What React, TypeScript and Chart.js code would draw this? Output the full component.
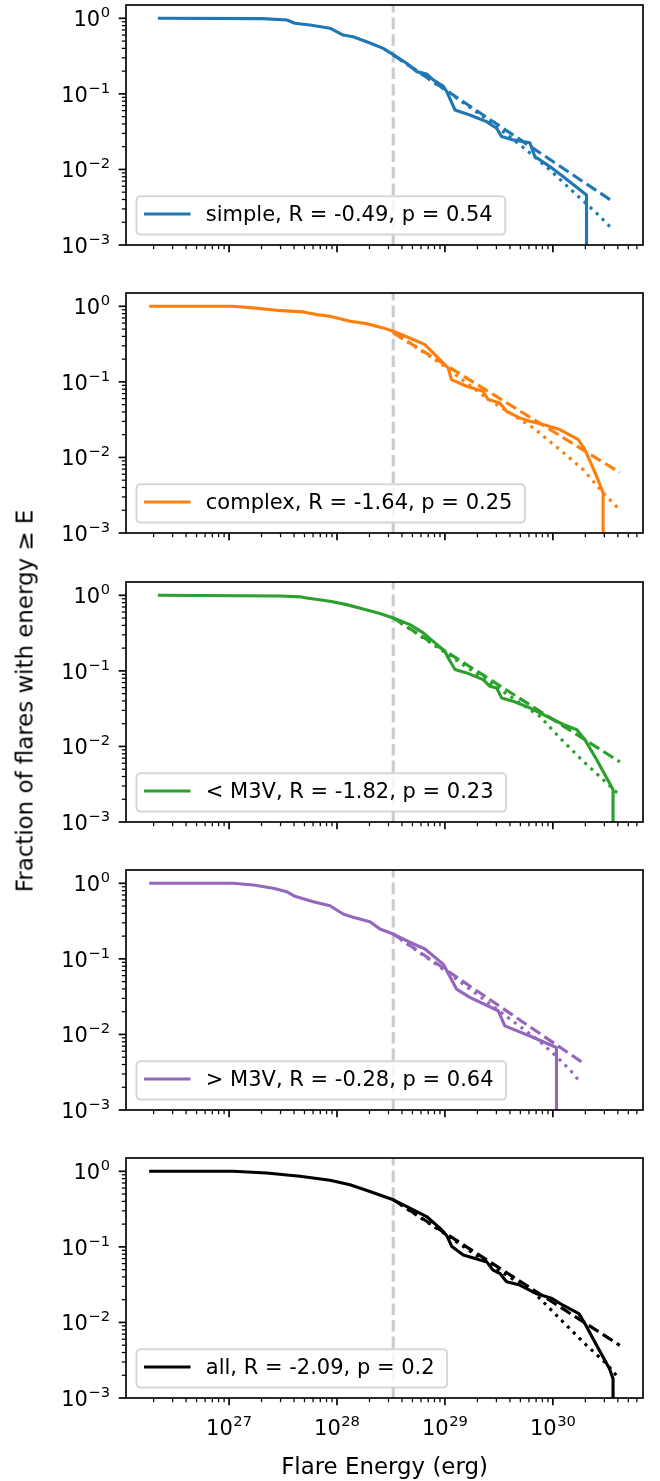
import React, { useEffect, useRef } from 'react';
import { Chart, registerables } from 'chart.js';

Chart.register(...registerables);

// ---------- axes ----------
const X_MIN = 1.11e26;
const X_MAX = 6.84e30;
const Y_MIN = 1e-3;
const Y_MAX = 1.5;
const E_MIN = 3.32e28; // grey dashed threshold line
const X_MAJOR = [1e27, 1e28, 1e29, 1e30];
const X_MAJOR_EXP = ['27', '28', '29', '30'];
const Y_MAJOR = [1, 0.1, 0.01, 0.001];
const Y_MAJOR_EXP = ['0', '\u22121', '\u22122', '\u22123'];
const X_TITLE = 'Flare Energy (erg)';
const Y_TITLE = 'Fraction of flares with energy \u2265 E';

// ---------- simple ----------
const SIMPLE_E = [2.19e26, 2.06e27, 3.44e27, 4.07e27, 5.62e27, 8.61e27, 1.14e28, 1.41e28, 2.02e28, 2.68e28, 3.32e28, 4.42e28, 5.47e28, 6.76e28, 7.78e28, 9.64e28, 1.04e29, 1.24e29, 1.70e29, 2.43e29, 3.01e29, 3.35e29, 4.29e29, 6.12e29, 6.81e29, 9.38e29, 1.25e30, 2.05e30, 2.05e30];
const SIMPLE_F = [1.0, 0.99, 0.95, 0.86, 0.815, 0.74, 0.60, 0.57, 0.47, 0.40, 0.33, 0.254, 0.197, 0.183, 0.153, 0.127, 0.107, 0.0612, 0.0526, 0.0429, 0.0351, 0.0272, 0.0246, 0.0226, 0.0148, 0.0109, 0.0080, 0.0046, 0.0001];
const SIMPLE_PL_E = [3.32e28, 3.61e30];
const SIMPLE_PL_F = [0.327, 0.00375];
const SIMPLE_CUT_E = [3.32e28, 5.08e28, 1.19e29, 2.51e29, 5.70e29, 9.38e29, 1.54e30, 2.54e30, 3.56e30];
const SIMPLE_CUT_F = [0.327, 0.218, 0.095, 0.045, 0.0181, 0.00984, 0.00508, 0.00264, 0.00162];

// ---------- complex ----------
const COMPLEX_E = [1.82e26, 1.09e27, 1.67e27, 2.76e27, 4.88e27, 6.49e27, 8.61e27, 1.32e28, 1.88e28, 2.68e28, 3.32e28, 5.08e28, 6.53e28, 8.97e28, 1.07e29, 1.15e29, 1.59e29, 2.26e29, 2.52e29, 3.23e29, 3.72e29, 4.94e29, 6.12e29, 8.13e29, 1.16e30, 1.71e30, 1.98e30, 2.54e30, 2.92e30, 2.92e30];
const COMPLEX_F = [1.0, 1.0, 0.953, 0.885, 0.843, 0.776, 0.737, 0.634, 0.590, 0.518, 0.467, 0.363, 0.311, 0.197, 0.153, 0.107, 0.0875, 0.0752, 0.0583, 0.0526, 0.0408, 0.0334, 0.0301, 0.0272, 0.0234, 0.0173, 0.0127, 0.00564, 0.0034, 0.0001];
const COMPLEX_PL_E = [3.32e28, 4.17e30];
const COMPLEX_PL_F = [0.447, 0.0063];
const COMPLEX_CUT_E = [3.32e28, 8.97e28, 2.52e29, 6.56e29, 1.16e30, 1.91e30, 2.92e30, 4.17e30];
const COMPLEX_CUT_F = [0.447, 0.178, 0.059, 0.0247, 0.0127, 0.0069, 0.0034, 0.00202];

// ---------- < M3V ----------
const LOW_E = [2.19e26, 3.0e27, 4.54e27, 5.24e27, 8.61e27, 1.23e28, 1.75e28, 2.50e28, 3.32e28, 4.74e28, 6.30e28, 7.78e28, 1.0e29, 1.07e29, 1.24e29, 1.59e29, 2.26e29, 2.61e29, 3.01e29, 3.35e29, 4.29e29, 6.12e29, 8.13e29, 1.25e30, 1.66e30, 1.98e30, 2.54e30, 3.61e30, 3.61e30];
const LOW_F = [1.0, 0.98, 0.955, 0.923, 0.833, 0.753, 0.661, 0.573, 0.502, 0.409, 0.318, 0.246, 0.182, 0.149, 0.104, 0.094, 0.0766, 0.0625, 0.0596, 0.0439, 0.0396, 0.0324, 0.0264, 0.0195, 0.0167, 0.0123, 0.0067, 0.0027, 0.0001];
const LOW_PL_E = [3.32e28, 4.17e30];
const LOW_PL_F = [0.50, 0.00624];
const LOW_CUT_E = [3.32e28, 8.97e28, 2.52e29, 7.57e29, 1.16e30, 1.91e30, 3.14e30, 4.17e30];
const LOW_CUT_F = [0.50, 0.195, 0.072, 0.0251, 0.013, 0.00637, 0.00331, 0.00224];

// ---------- > M3V ----------
const HIGH_E = [1.82e26, 1.09e27, 1.68e27, 2.57e27, 3.42e27, 4.07e27, 6.03e27, 8.61e27, 1.14e28, 1.41e28, 2.02e28, 2.50e28, 3.32e28, 4.74e28, 6.53e28, 9.64e28, 1.28e29, 1.70e29, 3.11e29, 3.59e29, 6.12e29, 1.08e30, 1.08e30];
const HIGH_F = [1.0, 1.0, 0.95, 0.859, 0.774, 0.673, 0.571, 0.505, 0.393, 0.355, 0.310, 0.248, 0.213, 0.166, 0.135, 0.0853, 0.0398, 0.0309, 0.0206, 0.013, 0.00955, 0.00671, 0.0001];
const HIGH_PL_E = [3.32e28, 1.87e30];
const HIGH_PL_F = [0.213, 0.00428];
const HIGH_CUT_E = [3.32e28, 1.0e29, 3.11e29, 7.57e29, 1.08e30, 1.44e30, 1.78e30];
const HIGH_CUT_F = [0.213, 0.070, 0.021, 0.0081, 0.0051, 0.0034, 0.00237];

// ---------- all ----------
const ALL_E = [1.82e26, 1.09e27, 2.23e27, 4.54e27, 8.61e27, 1.32e28, 2.02e28, 3.32e28, 4.74e28, 6.76e28, 8.97e28, 1.04e29, 1.16e29, 1.48e29, 2.12e29, 2.43e29, 2.79e29, 3.23e29, 3.72e29, 4.94e29, 6.97e29, 9.85e29, 1.24e30, 1.74e30, 1.98e30, 2.54e30, 3.35e30, 3.61e30, 3.61e30];
const ALL_F = [1.0, 1.0, 0.948, 0.859, 0.76, 0.664, 0.542, 0.42, 0.326, 0.252, 0.177, 0.141, 0.101, 0.078, 0.067, 0.0638, 0.0493, 0.0447, 0.0346, 0.0312, 0.0242, 0.0207, 0.0169, 0.0131, 0.00966, 0.00498, 0.00244, 0.0018, 0.0001];
const ALL_PL_E = [3.32e28, 4.17e30];
const ALL_PL_F = [0.42, 0.00498];
const ALL_CUT_E = [3.32e28, 8.97e28, 2.52e29, 6.56e29, 1.24e30, 2.05e30, 3.14e30, 4.11e30];
const ALL_CUT_F = [0.42, 0.165, 0.060, 0.0255, 0.0102, 0.00498, 0.00284, 0.0018];

const LABELS = [
  'simple, R = -0.49, p = 0.54',
  'complex, R = -1.64, p = 0.25',
  '< M3V, R = -1.82, p = 0.23',
  '> M3V, R = -0.28, p = 0.64',
  'all, R = -2.09, p = 0.2',
];
const COLORS = ['#1f77b4', '#ff7f0e', '#2ca02c', '#9467bd', '#000000'];

const PANELS = [
  { e: SIMPLE_E, f: SIMPLE_F, plE: SIMPLE_PL_E, plF: SIMPLE_PL_F, cE: SIMPLE_CUT_E, cF: SIMPLE_CUT_F },
  { e: COMPLEX_E, f: COMPLEX_F, plE: COMPLEX_PL_E, plF: COMPLEX_PL_F, cE: COMPLEX_CUT_E, cF: COMPLEX_CUT_F },
  { e: LOW_E, f: LOW_F, plE: LOW_PL_E, plF: LOW_PL_F, cE: LOW_CUT_E, cF: LOW_CUT_F },
  { e: HIGH_E, f: HIGH_F, plE: HIGH_PL_E, plF: HIGH_PL_F, cE: HIGH_CUT_E, cF: HIGH_CUT_F },
  { e: ALL_E, f: ALL_F, plE: ALL_PL_E, plF: ALL_PL_F, cE: ALL_CUT_E, cF: ALL_CUT_F },
];

// ---------- layout ----------
const W = 660;
const PLOT_LEFT = 126;
const PLOT_RIGHT = 643;
const CANVAS_TOPS = [0, 288, 577, 865, 1153];
const CANVAS_HEIGHTS = [288, 289, 288, 288, 328];
const PAD_TOP = 5;
const PLOT_H = 240;

const FONT = '"DejaVu Sans", sans-serif';
const TICK_FS = 21;
const SUP_FS = 14.7;
const LABEL_FS = 22.9;
const LW = 3.125;

const pts = (xs: number[], ys: number[]) => xs.map((x, i) => ({ x, y: ys[i] }));

function drawPow(ctx: CanvasRenderingContext2D, exp: string, x: number, baseY: number, align: 'right' | 'center') {
  ctx.font = `${TICK_FS}px ${FONT}`;
  const wb = ctx.measureText('10').width;
  ctx.font = `${SUP_FS}px ${FONT}`;
  const ws = ctx.measureText(exp).width;
  const gap = 0.5;
  const total = wb + gap + ws;
  const x0 = align === 'right' ? x - total : x - total / 2;
  ctx.textAlign = 'left';
  ctx.textBaseline = 'alphabetic';
  ctx.fillStyle = '#000';
  ctx.font = `${TICK_FS}px ${FONT}`;
  ctx.fillText('10', x0, baseY);
  ctx.font = `${SUP_FS}px ${FONT}`;
  ctx.fillText(exp, x0 + wb + gap, baseY - 8.7);
}

function makePlugin(label: string, color: string, bottomPanel: boolean) {
  return {
    id: 'mplAxes',
    afterDraw(chart: any) {
      const ctx: CanvasRenderingContext2D = chart.ctx;
      const a = chart.chartArea;
      const xs = chart.scales.x;
      const ys = chart.scales.y;
      ctx.save();
      // spines
      ctx.strokeStyle = '#000';
      ctx.lineWidth = 1.67;
      ctx.strokeRect(a.left, a.top, a.right - a.left, a.bottom - a.top);
      // x ticks
      for (let n = 26; n <= 30; n++) {
        for (let k = 1; k <= 9; k++) {
          const v = k * Math.pow(10, n);
          if (v < X_MIN || v > X_MAX) continue;
          const px = xs.getPixelForValue(v);
          const major = k === 1;
          ctx.lineWidth = major ? 1.67 : 1.25;
          ctx.beginPath();
          ctx.moveTo(px, a.bottom);
          ctx.lineTo(px, a.bottom + (major ? 7.3 : 4.2));
          ctx.stroke();
        }
      }
      // y ticks
      for (let n = -3; n <= 0; n++) {
        for (let k = 1; k <= 9; k++) {
          const v = k * Math.pow(10, n);
          if (v < Y_MIN * 0.999 || v > Y_MAX) continue;
          const py = ys.getPixelForValue(v);
          const major = k === 1;
          ctx.lineWidth = major ? 1.67 : 1.25;
          ctx.beginPath();
          ctx.moveTo(a.left, py);
          ctx.lineTo(a.left - (major ? 7.3 : 4.2), py);
          ctx.stroke();
        }
      }
      // y tick labels
      Y_MAJOR.forEach((v, i) => {
        const py = ys.getPixelForValue(v);
        drawPow(ctx, Y_MAJOR_EXP[i], a.left - 16, py + 7.7, 'right');
      });
      if (bottomPanel) {
        X_MAJOR.forEach((v, i) => {
          const px = xs.getPixelForValue(v);
          drawPow(ctx, X_MAJOR_EXP[i], px, a.bottom + 36.7, 'center');
        });
        ctx.font = `${LABEL_FS}px ${FONT}`;
        ctx.textAlign = 'center';
        ctx.textBaseline = 'alphabetic';
        ctx.fillStyle = '#000';
        ctx.fillText(X_TITLE, (a.left + a.right) / 2, a.bottom + 75.7);
      }
      // legend
      ctx.font = `${TICK_FS}px ${FONT}`;
      const tw = ctx.measureText(label).width;
      const bh = 38.3;
      const bx = a.left + 10.5;
      const by = a.bottom - 10.4 - bh;
      const bw = 69.3 + tw + 12.5;
      const r = 4;
      ctx.beginPath();
      ctx.moveTo(bx + r, by);
      ctx.lineTo(bx + bw - r, by);
      ctx.arcTo(bx + bw, by, bx + bw, by + r, r);
      ctx.lineTo(bx + bw, by + bh - r);
      ctx.arcTo(bx + bw, by + bh, bx + bw - r, by + bh, r);
      ctx.lineTo(bx + r, by + bh);
      ctx.arcTo(bx, by + bh, bx, by + bh - r, r);
      ctx.lineTo(bx, by + r);
      ctx.arcTo(bx, by, bx + r, by, r);
      ctx.closePath();
      ctx.fillStyle = 'rgba(255,255,255,0.8)';
      ctx.fill();
      ctx.strokeStyle = 'rgba(204,204,204,0.8)';
      ctx.lineWidth = 2;
      ctx.stroke();
      const cy = by + bh / 2;
      ctx.strokeStyle = color;
      ctx.lineWidth = LW;
      ctx.lineCap = 'butt';
      ctx.beginPath();
      ctx.moveTo(bx + 7.5, cy - 1.5);
      ctx.lineTo(bx + 54, cy - 1.5);
      ctx.stroke();
      ctx.fillStyle = '#000';
      ctx.textAlign = 'left';
      ctx.textBaseline = 'alphabetic';
      ctx.fillText(label, bx + 69.3, cy + 5.5);
      ctx.restore();
    },
  };
}

function Panel({ idx }: { idx: number }) {
  const ref = useRef<HTMLCanvasElement>(null);
  const height = CANVAS_HEIGHTS[idx];
  const top = CANVAS_TOPS[idx];
  useEffect(() => {
    const p = PANELS[idx];
    const color = COLORS[idx];
    const common = { showLine: true, pointRadius: 0, pointHoverRadius: 0, clip: 0, borderJoinStyle: 'round' as const, tension: 0 };
    const chart = new Chart(ref.current as HTMLCanvasElement, {
      type: 'scatter',
      data: {
        datasets: [
          { ...common, data: pts(p.e, p.f), borderColor: color, backgroundColor: color, borderWidth: LW, order: 1 },
          { ...common, data: pts(p.plE, p.plF), borderColor: color, backgroundColor: color, borderWidth: LW, borderDash: [11.6, 5], order: 2 },
          { ...common, data: pts(p.cE, p.cF), borderColor: color, backgroundColor: color, borderWidth: LW, borderDash: [3.1, 5.2], order: 3 },
          { ...common, data: [{ x: E_MIN, y: Y_MIN }, { x: E_MIN, y: Y_MAX }], borderColor: 'rgba(128,128,128,0.4)', backgroundColor: 'rgba(128,128,128,0.4)', borderWidth: LW, borderDash: [11.6, 5], order: 4 },
        ],
      } as any,
      options: {
        animation: false,
        responsive: false,
        maintainAspectRatio: false,
        devicePixelRatio: 1,
        events: [],
        layout: { padding: { left: PLOT_LEFT, right: W - PLOT_RIGHT, top: PAD_TOP, bottom: height - PAD_TOP - PLOT_H } },
        scales: {
          x: { type: 'logarithmic', min: X_MIN, max: X_MAX, display: false },
          y: { type: 'logarithmic', min: Y_MIN, max: Y_MAX, display: false },
        },
        plugins: { legend: { display: false }, tooltip: { enabled: false }, title: { display: false } },
      } as any,
      plugins: [makePlugin(LABELS[idx], color, idx === PANELS.length - 1)],
    });
    return () => chart.destroy();
  }, [idx]);
  return (
    <canvas
      ref={ref}
      width={W}
      height={height}
      style={{ position: 'absolute', left: 0, top, width: W, height, display: 'block' }}
    />
  );
}

export default function App() {
  return (
    <div style={{ position: 'absolute', left: 0, top: 0, width: W, height: 1481, background: '#fff', overflow: 'hidden' }}>
      {PANELS.map((_, i) => (
        <Panel key={i} idx={i} />
      ))}
      <div
        style={{
          position: 'absolute',
          left: 25.4,
          top: 701,
          transform: 'translate(-50%, -50%) rotate(-90deg)',
          fontFamily: FONT,
          fontSize: LABEL_FS,
          lineHeight: `${LABEL_FS}px`,
          whiteSpace: 'nowrap',
          color: '#000',
          zIndex: 2,
        }}
      >
        {Y_TITLE}
      </div>
    </div>
  );
}
